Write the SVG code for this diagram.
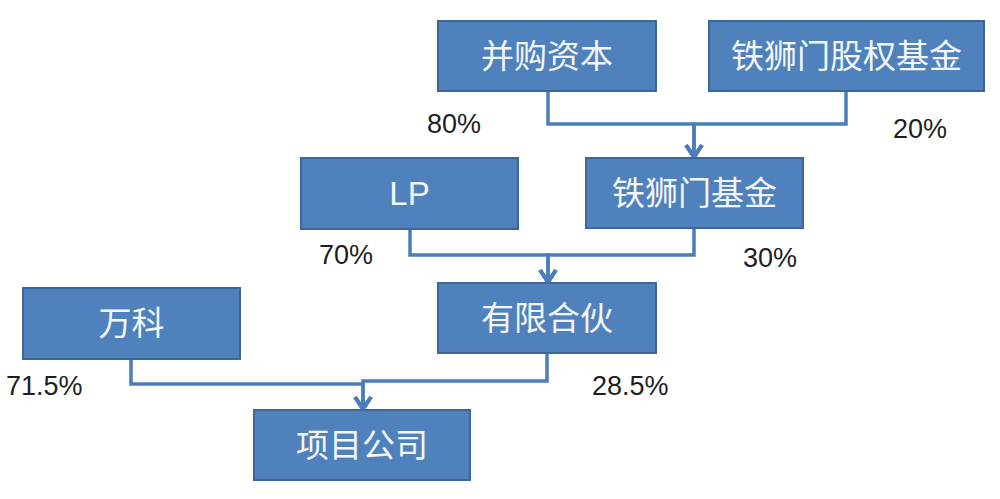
<svg xmlns="http://www.w3.org/2000/svg" width="1000" height="499" viewBox="0 0 1000 499">
<style>
.box{fill:#4F81BD;stroke:#3C679B;stroke-width:2}
.lbl{font-family:"Liberation Sans","Noto Sans CJK SC",sans-serif;font-size:33px;fill:#F3F6FA;text-anchor:middle;dominant-baseline:central}
.pct{font-family:"Liberation Sans","Noto Sans",sans-serif;font-size:27px;fill:#1E1E1E}
.con{fill:none;stroke:#4A7EBB;stroke-width:3.5;marker-end:url(#arr)}
</style>
<defs>
<marker id="arr" viewBox="0 0 16 20" refX="14" refY="10" markerWidth="16" markerHeight="20" markerUnits="userSpaceOnUse" orient="auto">
<path d="M2,2 L14,10 L2,18" fill="none" stroke="#4A7EBB" stroke-width="4" stroke-linejoin="miter"/>
</marker>
</defs>
<rect width="1000" height="499" fill="#FFFFFF"/>
<g id="connectors">
<path class="con" d="M548,91 V124 H694 V157"/>
<path class="con" d="M846,91 V124 H694 V157"/>
<path class="con" d="M410,229 V255 H548 V282"/>
<path class="con" d="M694,228 V255 H548 V282"/>
<path class="con" d="M131,359 V384 H363 V409"/>
<path class="con" d="M547,353 V381 H363 V409"/>
</g>
<g id="node-binggou">
<rect class="box" x="438" y="21" width="218" height="70"/>
<text class="lbl" x="547" y="56">并购资本</text>
</g>
<g id="node-tsm-equity">
<rect class="box" x="709" y="21" width="275" height="70"/>
<text class="lbl" x="846.5" y="56">铁狮门股权基金</text>
</g>
<g id="node-lp">
<rect class="box" x="301" y="158" width="217" height="71"/>
<text class="lbl" x="409.5" y="193">LP</text>
</g>
<g id="node-tsm-fund">
<rect class="box" x="586" y="158" width="217" height="70"/>
<text class="lbl" x="694.5" y="193">铁狮门基金</text>
</g>
<g id="node-lpship">
<rect class="box" x="438" y="283" width="218" height="70"/>
<text class="lbl" x="547" y="318">有限合伙</text>
</g>
<g id="node-vanke">
<rect class="box" x="23" y="288" width="217" height="71"/>
<text class="lbl" x="131.5" y="323">万科</text>
</g>
<g id="node-project">
<rect class="box" x="254" y="410" width="216" height="70"/>
<text class="lbl" x="362" y="445">项目公司</text>
</g>
<g id="labels">
<text class="pct" x="427" y="133">80%</text>
<text class="pct" x="893" y="138">20%</text>
<text class="pct" x="319" y="264">70%</text>
<text class="pct" x="743" y="267">30%</text>
<text class="pct" x="6" y="395">71.5%</text>
<text class="pct" x="592" y="395">28.5%</text>
</g>
</svg>
